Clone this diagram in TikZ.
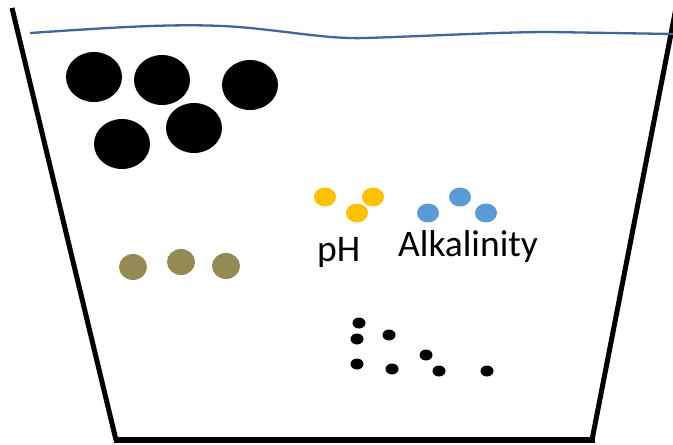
\documentclass[tikz,border=0pt]{standalone}
\usepackage{fontspec}
\setmainfont{Carlito}
\usepackage{tikz}
\usetikzlibrary{positioning}

\definecolor{waterblue}{HTML}{41679A}
\definecolor{phyellow}{HTML}{FFC000}
\definecolor{alkblue}{HTML}{5B9BD5}
\definecolor{olive}{HTML}{948A54}

\tikzset{
  wall/.style={line width=5pt, black},
  label/.style={font=\fontsize{37.5}{42}\selectfont, anchor=base west, inner sep=0pt}
}

\begin{document}
\begin{tikzpicture}[x=1pt, y=-1pt]
                \useasboundingbox (0,0) rectangle (673,445);
                \clip (0,0) rectangle (673,445);

                % Tank
                \coordinate (tl) at (12,8);
                \coordinate (bl) at (116,440);
                \coordinate (br) at (592,440);
                \coordinate (tr) at (676,8);
                \draw[wall] (tl) -- (bl);
                \draw[wall] (tr) -- (br);
                \draw[line width=6.5pt] ([xshift=-2.5pt]bl) -- ([xshift=2.5pt]br);

                % Water surface
                \draw[waterblue, line width=2.3pt] (30,33) .. controls (120,27) and (190,22) .. (250,28)
                  .. controls (300,33) and (330,39) .. (365,38)
                  .. controls (430,36) and (500,32) .. (550,32)
                  -- (673,34);

                % Big particles
                \foreach \px/\py in {94/77, 162/80, 250/85, 122/144, 194/128}
                  \fill (\px,\py) ellipse (28 and 25);

                % Medium particles
                \foreach \px/\py in {133/267, 181/262, 226/266}
                  \fill[olive] (\px,\py) ellipse (14 and 13);

                % pH and alkalinity
                \foreach \px/\py in {325/197, 373/197, 357/213}
                  \fill[phyellow] (\px,\py) ellipse (11 and 9.5);
                \foreach \px/\py in {428/213, 460/197, 486/213}
                  \fill[alkblue] (\px,\py) ellipse (11 and 9.5);
                \node[label] (ph) at (317,261) {pH};
                \node[label] (alk) at (398,256) {Alkalinity};

                % Small particles
                \foreach \px/\py in {359/323, 357/339, 389/335, 426/355, 357/364, 392/369, 439/371, 487/371}
                  \fill (\px,\py) ellipse (6.5 and 5.5);
            \end{tikzpicture}
\end{document}
